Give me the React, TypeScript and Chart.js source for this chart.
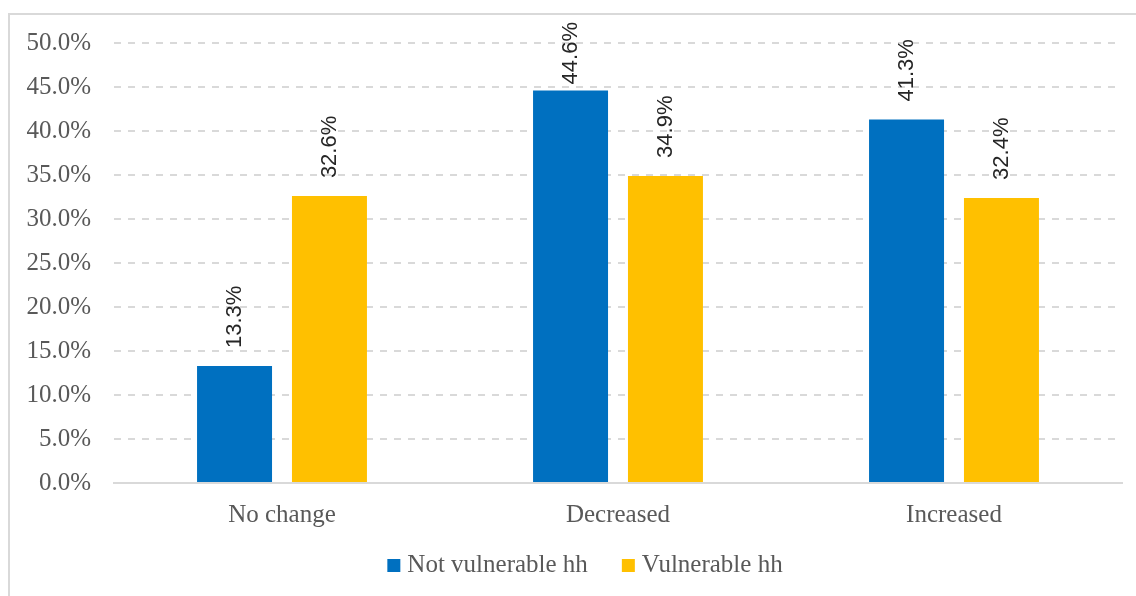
import React, { useEffect, useRef } from "react";
import { Chart, registerables } from "chart.js";

Chart.register(...registerables);

const categories = ["No change", "Decreased", "Increased"];
const notVulnerable = [13.3, 44.6, 41.3];
const vulnerable = [32.6, 34.9, 32.4];
const seriesNames = ["Not vulnerable hh", "Vulnerable hh"];
const seriesColors = ["#0070C0", "#FFC000"];
const yMin = 0;
const yMax = 50;
const yStep = 5;

const SERIF = '"Liberation Serif", "Times New Roman", serif';
const SANS = '"Liberation Sans", Arial, sans-serif';

const LEGEND_CX = 585;
const LEGEND_BASE = 572;

const labelPlugin = {
  id: "barLabels",
  afterDatasetsDraw(chart: any) {
    const ctx = chart.ctx;
    ctx.save();
    ctx.font = `22px ${SANS}`;
    ctx.fillStyle = "#262626";
    ctx.textAlign = "left";
    ctx.textBaseline = "middle";
    chart.data.datasets.forEach((ds: any, di: number) => {
      const meta = chart.getDatasetMeta(di);
      meta.data.forEach((bar: any, i: number) => {
        const v = ds.data[i];
        const txt = Number(v).toFixed(1) + "%";
        const w = ctx.measureText(txt).width;
        let start = bar.y - 18;
        const minTop = 22;
        if (start - w < minTop) start = minTop + w;
        ctx.save();
        ctx.translate(bar.x, start);
        ctx.rotate(-Math.PI / 2);
        ctx.fillText(txt, 0, 0);
        ctx.restore();
      });
    });
    ctx.restore();
  },
};

const legendPlugin = {
  id: "customLegend",
  afterDraw(chart: any) {
    const ctx = chart.ctx;
    ctx.save();
    ctx.font = `25px ${SERIF}`;
    const box = 13;
    const gapText = 7;
    const gapItem = 34;
    const items = chart.data.datasets.map((ds: any) => ({
      label: ds.label,
      color: ds.backgroundColor,
      w: ctx.measureText(ds.label).width,
    }));
    const total =
      items.reduce((s: number, it: any) => s + box + gapText + it.w, 0) +
      gapItem * (items.length - 1);
    let x = LEGEND_CX - total / 2;
    ctx.textAlign = "left";
    ctx.textBaseline = "alphabetic";
    items.forEach((it: any) => {
      ctx.fillStyle = it.color;
      ctx.fillRect(x, LEGEND_BASE - box, box, box);
      x += box + gapText;
      ctx.fillStyle = "#595959";
      ctx.fillText(it.label, x, LEGEND_BASE);
      x += it.w + gapItem;
    });
    ctx.restore();
  },
};

export default function App() {
  const ref = useRef<HTMLCanvasElement>(null);
  useEffect(() => {
    if (!ref.current) return;
    const chart = new Chart(ref.current, {
      type: "bar",
      data: {
        labels: categories,
        datasets: [
          {
            label: seriesNames[0],
            data: notVulnerable,
            backgroundColor: seriesColors[0],
            categoryPercentage: 0.565,
            barPercentage: 0.79,
          },
          {
            label: seriesNames[1],
            data: vulnerable,
            backgroundColor: seriesColors[1],
            categoryPercentage: 0.565,
            barPercentage: 0.79,
          },
        ],
      },
      options: {
        responsive: false,
        maintainAspectRatio: false,
        animation: false,
        layout: { padding: { top: 43, right: 14, left: 0, bottom: 0 } },
        plugins: {
          legend: { display: false },
          tooltip: { enabled: false },
        },
        scales: {
          x: {
            grid: { display: false, drawTicks: false },
            border: { display: true, color: "#d9d9d9", width: 2 },
            ticks: {
              font: { family: SERIF, size: 25 },
              color: "#595959",
              padding: 17,
            },
            afterFit: (s: any) => {
              s.height = 113;
            },
          },
          y: {
            min: yMin,
            max: yMax,
            ticks: {
              stepSize: yStep,
              callback: (v: any) => Number(v).toFixed(1) + "%",
              font: { family: SERIF, size: 25 },
              color: "#595959",
              padding: 23,
            },
            grid: { color: "#d9d9d9", lineWidth: 2, drawTicks: false },
            border: { display: false, dash: [7, 7] },
            afterFit: (s: any) => {
              s.width = 114;
            },
          },
        },
      },
      plugins: [labelPlugin, legendPlugin],
    } as any);
    return () => chart.destroy();
  }, []);

  return (
    <div
      style={{
        position: "fixed",
        left: 0,
        top: 0,
        width: 1136,
        height: 596,
        overflow: "hidden",
        background: "#fff",
      }}
    >
      <div
        style={{
          position: "absolute",
          left: 8,
          top: 13,
          width: 1200,
          height: 700,
          borderLeft: "2px solid #d9d9d9",
          borderTop: "2px solid #d9d9d9",
        }}
      />
      <canvas
        ref={ref}
        width={1136}
        height={596}
        style={{ position: "absolute", left: 0, top: 0, display: "block" }}
      />
    </div>
  );
}
